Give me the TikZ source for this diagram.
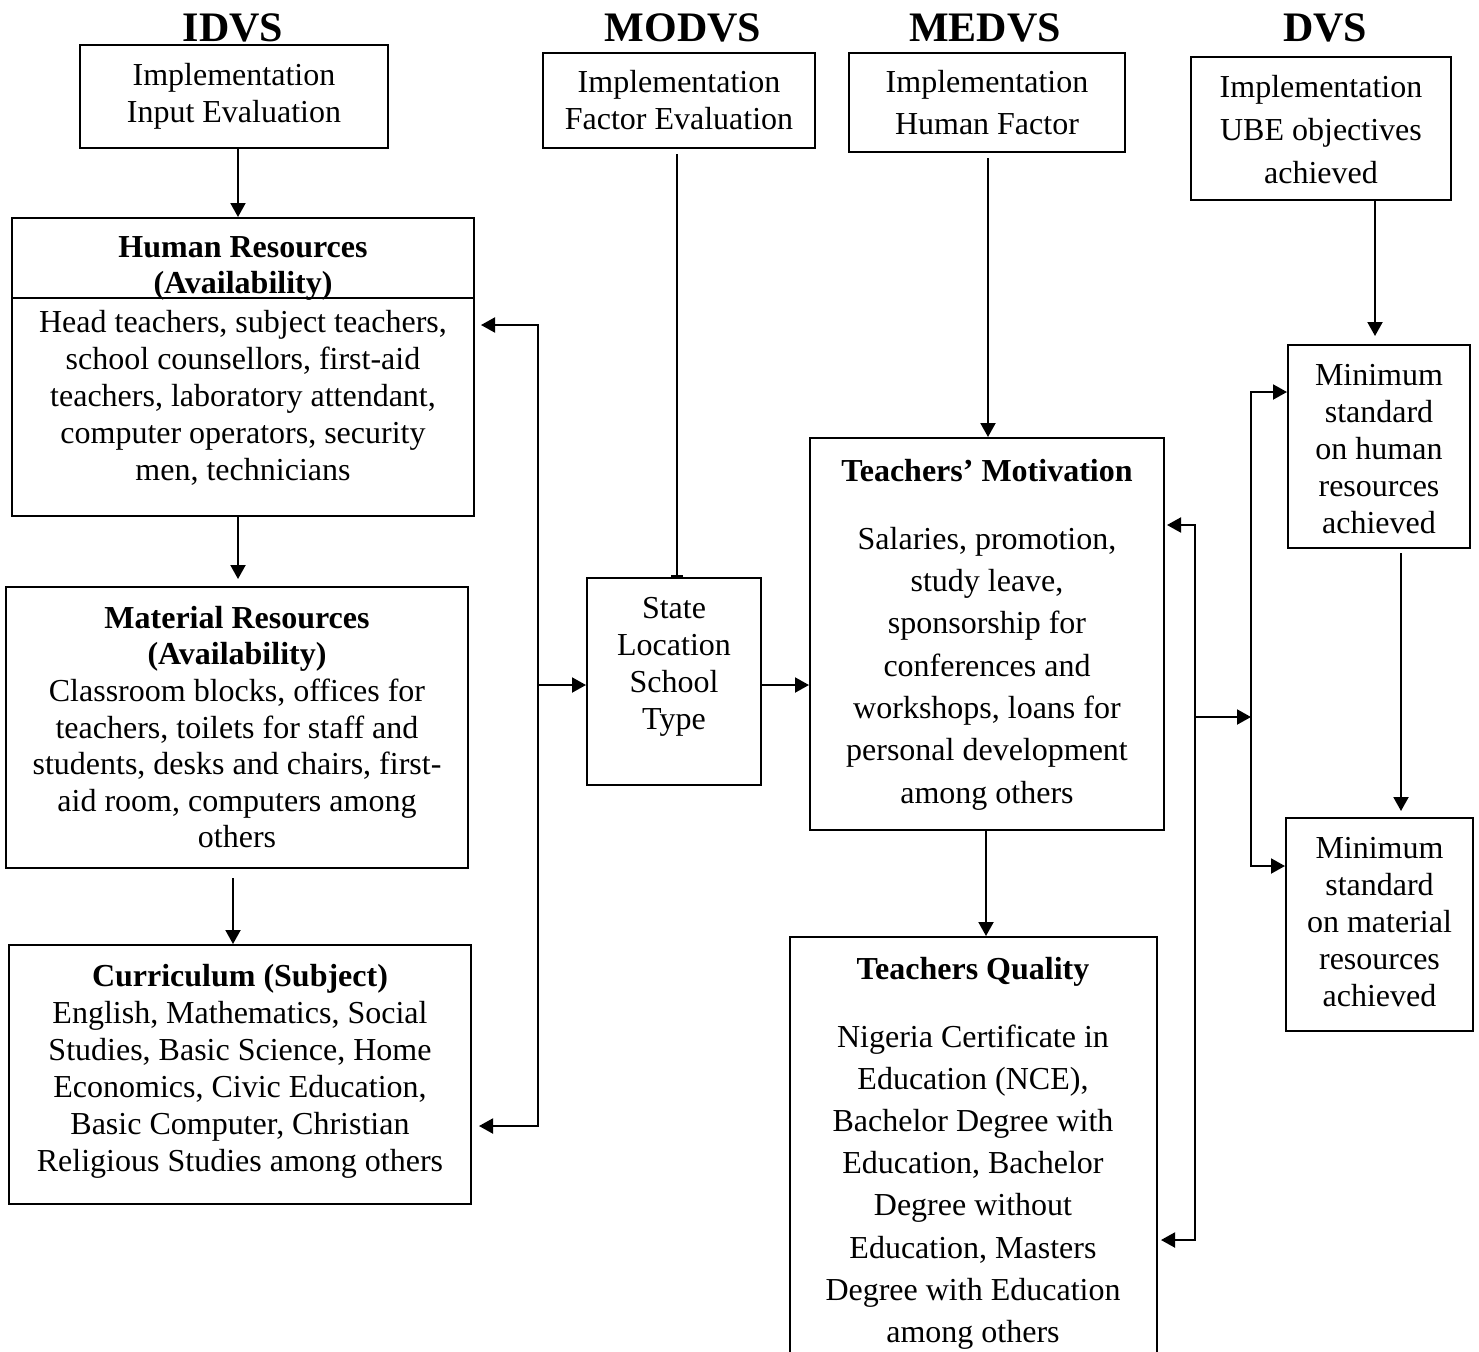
\documentclass[tikz,border=0pt]{standalone}
\usepackage{fontspec}
\setmainfont{Liberation Serif}
\usetikzlibrary{arrows.meta}
\begin{document}
\begin{tikzpicture}[x=0.5pt,y=-0.5pt,>={Triangle[length=7pt,width=7.5pt]},line width=1pt,
 box/.style={draw,inner sep=0pt},
 txt/.style={align=center,inner sep=0pt,anchor=north,font=\fontsize{16}{18.5}\selectfont},
 widetxt/.style={txt,font=\fontsize{16}{21.1}\selectfont},
 boldtxt/.style={txt,font=\fontsize{16}{18}\selectfont\bfseries},
 head/.style={inner sep=0pt,font=\fontsize{21}{25}\selectfont\bfseries},
 flow/.style={->}]
\useasboundingbox (0,0) rectangle (1479,1351);
% column headings
\node[head] (idvs) at (233,28) {IDVS};
\node[head] (modvs) at (683,28) {MODVS};
\node[head] (medvs) at (985,28) {MEDVS};
\node[head] (dvs) at (1325,28) {DVS};
% top boxes
\node[box,minimum width=154pt,minimum height=51.5pt] (inp) at (234,96.5) {};
\node[txt] (inptxt) at (234,62) {Implementation\\Input Evaluation};
\node[box,minimum width=136pt,minimum height=47.5pt] (fac) at (679,100.5) {};
\node[txt] (factxt) at (679,69) {Implementation\\Factor Evaluation};
\node[box,minimum width=138pt,minimum height=49.5pt] (hum) at (987,102.5) {};
\node[widetxt] (humtxt) at (987,69) {Implementation\\Human Factor};
\node[box,minimum width=130pt,minimum height=71.5pt] (ube) at (1321,128.5) {};
\node[txt,font=\fontsize{16}{21.5}\selectfont] (ubetxt) at (1321,74) {Implementation\\UBE objectives\\achieved};
% input column
\node[box,minimum width=231pt,minimum height=149pt] (hr) at (243,367) {};
\coordinate (hrdiv) at (0,298);
\draw (hr.west |- hrdiv) -- (hr.east |- hrdiv);
\node[boldtxt] (hrtitle) at (243,236) {Human Resources\\(Availability)};
\node[txt] (hrtxt) at (243,309) {Head teachers, subject teachers,\\school counsellors, first-aid\\teachers, laboratory attendant,\\computer operators, security\\men, technicians};
\node[box,minimum width=231pt,minimum height=140.5pt] (mr) at (237,727.5) {};
\node[txt,font=\fontsize{16}{18.3}\selectfont] (mrtxt) at (237,605) {\textbf{Material Resources}\\\textbf{(Availability)}\\Classroom blocks, offices for\\teachers, toilets for staff and\\students, desks and chairs, first-\\aid room, computers among\\others};
\node[box,minimum width=231pt,minimum height=129.5pt] (cu) at (240,1074.5) {};
\node[txt] (cutxt) at (240,963) {\textbf{Curriculum (Subject)}\\English, Mathematics, Social\\Studies, Basic Science, Home\\Economics, Civic Education,\\Basic Computer, Christian\\Religious Studies among others};
% moderator
\node[box,minimum width=87pt,minimum height=103.5pt] (st) at (674,681.5) {};
\node[txt] (sttxt) at (674,596) {State\\Location\\School\\Type};
% mediator column
\node[box,minimum width=177pt,minimum height=196pt] (tm) at (987,634) {};
\node[boldtxt] (tmtitle) at (987,458) {Teachers' Motivation};
\node[txt,font=\fontsize{16}{21.15}\selectfont] (tmtxt) at (987,526) {Salaries, promotion,\\study leave,\\sponsorship for\\conferences and\\workshops, loans for\\personal development\\among others};
\node[box,minimum width=183.5pt,minimum height=211pt] (tq) at (973.5,1148) {};
\node[boldtxt] (tqtitle) at (973,956) {Teachers Quality};
\node[txt,font=\fontsize{16}{21.05}\selectfont] (tqtxt) at (973,1024) {Nigeria Certificate in\\Education (NCE),\\Bachelor Degree with\\Education, Bachelor\\Degree without\\Education, Masters\\Degree with Education\\among others};
% dependent column
\node[box,minimum width=91pt,minimum height=101.5pt] (msh) at (1379,446.5) {};
\node[txt] (mshtxt) at (1379,363) {Minimum\\standard\\on human\\resources\\achieved};
\node[box,minimum width=93.5pt,minimum height=106.5pt] (msm) at (1379.5,924.5) {};
\node[txt] (msmtxt) at (1379.5,836) {Minimum\\standard\\on material\\resources\\achieved};
% vertical links
\draw[flow] ([xshift=2pt]inp.south) -- ([xshift=2pt]inp.south |- hr.north);
\draw[flow,shorten >=3.5pt] ([xshift=-2.5pt]hr.south) -- ([xshift=-2.5pt]hr.south |- mr.north);
\draw[flow,shorten <=4.5pt] ([xshift=-2pt]mr.south) -- ([xshift=-2pt]mr.south |- cu.north);
\draw[-{Bar[width=6pt]},shorten <=2.5pt] ([xshift=-1pt]fac.south) -- ([xshift=-1pt]fac.south |- st.north);
\draw[flow,shorten <=2.5pt] ([xshift=0.5pt]hum.south) -- ([xshift=0.5pt]hum.south |- tm.north);
\draw[flow,shorten >=4pt] ([xshift=-2pt]msh.north |- ube.south) -- ([xshift=-2pt]msh.north);
\draw[flow,shorten <=2pt,shorten >=3pt] ([xshift=11pt]msh.south) -- ([xshift=11pt]msh.south |- msm.north);
\draw[flow] ([xshift=-0.5pt]tm.south) -- ([xshift=-0.5pt]tm.south |- tq.north);
% brackets
\coordinate (l1) at (538,325); \coordinate (l2) at (538,1126); \coordinate (l3) at (538,685);
\draw[<->,shorten <=3pt,shorten >=3.5pt] (l1 -| hr.east) -- (l1) -- (l2) -- (l2 -| cu.east);
\draw[flow] (l3) -- (l3 -| st.west);
\draw[flow] (st.east |- l3) -- (tm.west |- l3);
\coordinate (r1) at (1195,525); \coordinate (r2) at (1195,1240); \coordinate (r3) at (1195,717);
\draw[<->,shorten <=1pt,shorten >=1.5pt] (r1 -| tm.east) -- (r1) -- (r2) -- (r2 -| tq.east);
\coordinate (s1) at (1251,392); \coordinate (s2) at (1251,866);
\draw[<->] (s1 -| msh.west) -- (s1) -- (s2) -- (s2 -| msm.west);
\draw[flow] (r3) -- (r3 -| s1);
\end{tikzpicture}
\end{document}
